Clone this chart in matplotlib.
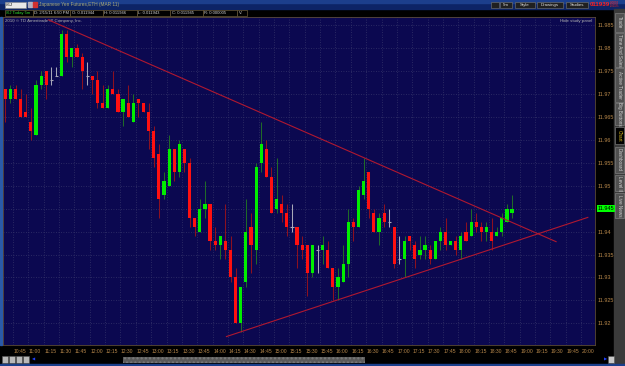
import matplotlib
matplotlib.use("Agg")
import matplotlib.pyplot as plt
from matplotlib.patches import Rectangle
from matplotlib.transforms import blended_transform_factory

plt.rcParams["font.family"] = ["Liberation Sans Narrow", "Liberation Sans", "DejaVu Sans"]

W, H = 625, 366

# 5-minute bars of /6J (x1000), first bar 10:35, last bar 18:50
opens = [11.971, 11.969, 11.971, 11.969, 11.966, 11.964, 11.961, 11.972, 11.975, 11.973,
         11.974, 11.974, 11.983, 11.978, 11.980, 11.978, 11.974, 11.974, 11.973, 11.968,
         11.967, 11.971, 11.970, 11.966, 11.968, 11.964, 11.969, 11.968, 11.966, 11.962,
         11.957, 11.948, 11.950, 11.958, 11.953, 11.958, 11.955, 11.943, 11.940, 11.945,
         11.946, 11.938, 11.937, 11.938, 11.936, 11.930, 11.920, 11.929, 11.941, 11.936,
         11.955, 11.958, 11.952, 11.945, 11.946, 11.944, 11.941, 11.941, 11.937, 11.937,
         11.931, 11.936, 11.936, 11.936, 11.932, 11.928, 11.929, 11.933, 11.942, 11.941,
         11.948, 11.953, 11.944, 11.940, 11.944, 11.942, 11.941, 11.934, 11.934, 11.939,
         11.937, 11.935, 11.936, 11.936, 11.934, 11.938, 11.940, 11.937, 11.938, 11.936,
         11.940, 11.939, 11.942, 11.941, 11.940, 11.940, 11.939, 11.940, 11.942, 11.944]
highs = [11.971, 11.972, 11.972, 11.971, 11.970, 11.967, 11.973, 11.975, 11.975, 11.976,
         11.976, 11.984, 11.984, 11.980, 11.981, 11.979, 11.977, 11.974, 11.975, 11.972,
         11.972, 11.975, 11.971, 11.969, 11.972, 11.970, 11.969, 11.968, 11.968, 11.963,
         11.959, 11.953, 11.961, 11.958, 11.960, 11.958, 11.956, 11.943, 11.947, 11.951,
         11.946, 11.941, 11.939, 11.946, 11.939, 11.932, 11.928, 11.947, 11.944, 11.955,
         11.964, 11.960, 11.954, 11.956, 11.948, 11.946, 11.946, 11.941, 11.939, 11.937,
         11.937, 11.937, 11.939, 11.938, 11.932, 11.932, 11.937, 11.945, 11.943, 11.950,
         11.956, 11.953, 11.945, 11.944, 11.946, 11.945, 11.941, 11.939, 11.939, 11.939,
         11.938, 11.939, 11.939, 11.937, 11.938, 11.941, 11.943, 11.938, 11.939, 11.940,
         11.942, 11.945, 11.944, 11.942, 11.942, 11.943, 11.941, 11.944, 11.946, 11.948]
lows = [11.964, 11.968, 11.969, 11.965, 11.965, 11.960, 11.961, 11.971, 11.969, 11.972,
        11.974, 11.974, 11.977, 11.976, 11.978, 11.971, 11.972, 11.970, 11.967, 11.967,
        11.967, 11.970, 11.966, 11.963, 11.965, 11.964, 11.965, 11.966, 11.958, 11.954,
        11.943, 11.947, 11.950, 11.951, 11.952, 11.953, 11.941, 11.939, 11.940, 11.943,
        11.936, 11.936, 11.934, 11.934, 11.929, 11.920, 11.918, 11.928, 11.931, 11.933,
        11.953, 11.952, 11.944, 11.944, 11.942, 11.939, 11.940, 11.932, 11.934, 11.926,
        11.930, 11.931, 11.933, 11.932, 11.925, 11.925, 11.929, 11.930, 11.938, 11.941,
        11.947, 11.943, 11.940, 11.937, 11.941, 11.941, 11.932, 11.933, 11.930, 11.936,
        11.932, 11.934, 11.934, 11.933, 11.934, 11.936, 11.936, 11.937, 11.935, 11.934,
        11.938, 11.939, 11.940, 11.938, 11.938, 11.936, 11.939, 11.939, 11.942, 11.943]
closes = [11.969, 11.971, 11.969, 11.965, 11.965, 11.962, 11.972, 11.974, 11.972, 11.973,
          11.974, 11.983, 11.978, 11.980, 11.978, 11.975, 11.974, 11.973, 11.968, 11.967,
          11.971, 11.970, 11.966, 11.969, 11.965, 11.968, 11.968, 11.966, 11.962, 11.956,
          11.947, 11.951, 11.958, 11.953, 11.959, 11.955, 11.943, 11.941, 11.945, 11.946,
          11.938, 11.937, 11.939, 11.936, 11.930, 11.920, 11.928, 11.940, 11.937, 11.954,
          11.959, 11.952, 11.944, 11.947, 11.944, 11.941, 11.941, 11.937, 11.936, 11.931,
          11.937, 11.936, 11.937, 11.932, 11.928, 11.930, 11.933, 11.942, 11.941, 11.949,
          11.951, 11.945, 11.940, 11.943, 11.942, 11.942, 11.933, 11.934, 11.938, 11.938,
          11.934, 11.936, 11.937, 11.934, 11.938, 11.940, 11.937, 11.938, 11.936, 11.939,
          11.938, 11.942, 11.941, 11.940, 11.941, 11.938, 11.940, 11.943, 11.945, 11.945]

time_labels = ["10:45", "11:00", "11:15", "11:30", "11:45", "12:00", "12:15", "12:30",
               "12:45", "13:00", "13:15", "13:30", "13:45", "14:00", "14:15", "14:30",
               "14:45", "15:00", "15:15", "15:30", "15:45", "16:00", "16:15", "16:30",
               "16:45", "17:00", "17:15", "17:30", "17:45", "18:00", "18:15", "18:30",
               "18:45", "19:00", "19:15", "19:30", "19:45", "20:00"]
price_ticks = [11.92, 11.925, 11.93, 11.935, 11.94, 11.945, 11.95, 11.955,
               11.96, 11.965, 11.97, 11.975, 11.98, 11.985]
last_price = 11.945

# drawn trendlines, (bar index, price) end points
upper_line_x = [8.4, 107.6]
upper_line_y = [11.9862, 11.9378]
lower_line_x = [43.2, 113.8]
lower_line_y = [11.9171, 11.9431]

side_tabs = ["Trade", "Time And Sales", "Active Trader", "Big Buttons", "Chart",
             "Dashboard", "Level II", "Live News"]

NAVY = "#0b0850"
UP = "#00ee00"
DOWN = "#ff1010"
UP_WICK = "#1f6a28"
DOWN_WICK = "#8c1020"
DOJI = "#a8a8b8"
AXIS_TXT = "#b8884a"
GRID = "#34346a"


def px_rect(x0, y0, x1, y1):
    return [x0 / W, 1 - y1 / H, (x1 - x0) / W, (y1 - y0) / H]


fig = plt.figure(figsize=(W / 100, H / 100), dpi=100, facecolor="black")

# window chrome, drawn in pixel coordinates
ui = fig.add_axes([0, 0, 1, 1])
ui.set_xlim(0, W)
ui.set_ylim(H, 0)
ui.axis("off")
ui.add_patch(Rectangle((0, 0), W, 8.5, color="#0d2466"))
ui.add_patch(Rectangle((0, 0), W, 2.5, color="#1c3f8c"))
ui.add_patch(Rectangle((5, 1.5), 21, 6, facecolor="#e8e8e8", edgecolor="#888888", lw=0.4))
ui.text(6, 4.6, "/6J", fontsize=3.2, color="black", va="center")
ui.add_patch(Rectangle((28, 2), 4, 5, color="#b0b0c0"))
ui.add_patch(Rectangle((33, 2), 4, 5, color="#d03030"))
ui.text(39, 4.6, "Japanese Yen Futures,ETH (MAR 11)", fontsize=3.4, color="#a8a878", va="center")
for x0, w, lab in [(491, 8, ""), (500, 12, "5m"), (515, 20, "Style"), (537, 26, "Drawings"), (566, 22, "Studies")]:
    ui.add_patch(Rectangle((x0, 1.5), w, 6, facecolor="#202020", edgecolor="#777777", lw=0.4))
    ui.text(x0 + w / 2, 4.6, lab, fontsize=3.2, color="#dddddd", ha="center", va="center")
ui.text(590, 4.8, "011939", fontsize=4.4, color="#ff2020", va="center", weight="bold")
ui.text(610, 2.9, "-00002", fontsize=2.2, color="#ff2020", va="center")
ui.text(610, 6.1, "-0.01%", fontsize=2.2, color="#ff2020", va="center")

header = [(5, 33, "/6J Today 5m", "#30e030"), (33, 70, "D: 2/15/11 6:50 PM", "#d8d8d8"),
          (70, 103, "O: 0.011944", "#d8d8d8"), (103, 137, "H: 0.011946", "#d8d8d8"),
          (137, 170, "L: 0.011943", "#d8d8d8"), (170, 203, "C: 0.011945", "#d8d8d8"),
          (203, 237, "R: 0.000005", "#d8d8d8"), (237, 247, "V:", "#d8d8d8")]
for x0, x1, lab, col in header:
    ui.add_patch(Rectangle((x0, 9.5), x1 - x0, 6.5, facecolor="black", edgecolor="#6a5a3a", lw=0.5))
    ui.text(x0 + 1.5, 12.9, lab, fontsize=3.0, color=col, va="center")

# right side tabs
ui.add_patch(Rectangle((614, 9), 11, 357, color="#3a3a3a"))
tab_spans = [(13, 32), (33, 67), (68, 102), (103, 125), (127, 144), (147, 173), (175, 191), (193, 218)]
for (y0, y1), lab in zip(tab_spans, side_tabs):
    active = lab == "Chart"
    ui.add_patch(Rectangle((615, y0), 9, y1 - y0, facecolor="#000000" if active else "#505050",
                           edgecolor="#8a8a8a", lw=0.4))
    ui.text(619.5, (y0 + y1) / 2, lab, fontsize=3.3, rotation=270, ha="center", va="center",
            color="#e0c020" if active else "#d0d0d0")

# bottom scroll bar
for i in range(4):
    ui.add_patch(Rectangle((2 + i * 7, 356), 6, 6.5, facecolor="#b8b8b8", edgecolor="#555555", lw=0.4))
ui.text(32, 359.3, "\u25c0", fontsize=3, color="#2040ff", va="center", family="DejaVu Sans")
ui.add_patch(Rectangle((123, 356.5), 242, 6, facecolor="#5a5a5a", hatch="....", edgecolor="#7a7a7a", lw=0))
ui.text(604, 359.3, "\u25b6", fontsize=3, color="#2040ff", va="center", family="DejaVu Sans")
ui.add_patch(Rectangle((608, 356), 6, 6.5, facecolor="#c8c8c8", edgecolor="#555555", lw=0.4))
ui.add_patch(Rectangle((0, 363.5), W, 2.5, color="#1a3f8c"))
ui.add_patch(Rectangle((0, 17), 1.5, 328, color="#2a5aa8"))

# price chart
ax = fig.add_axes(px_rect(3, 17, 595, 345))
ax.set_facecolor(NAVY)
ax.set_xlim(-0.45, 115.2)
ax.set_ylim(11.91526, 11.98681)

grid_x = [1.5 + 3 * k for k in range(len(time_labels))]
for gx in grid_x:
    ax.axvline(gx, color=GRID, lw=0.6, ls=(0, (1, 2)), zorder=0)
for py in price_ticks:
    ax.axhline(py, color=GRID, lw=0.6, ls=(0, (1, 2)), zorder=0)

for i, (o, h, l, c) in enumerate(zip(opens, highs, lows, closes)):
    if c > o:
        body, wick = UP, UP_WICK
    elif c < o:
        body, wick = DOWN, DOWN_WICK
    else:
        body, wick = DOJI, DOJI
    ax.vlines(i, l, h, color=wick, lw=0.75, zorder=2)
    if c == o:
        ax.hlines(o, i - 0.32, i + 0.32, color=DOJI, lw=0.8, zorder=3)
    else:
        ax.bar(i, abs(c - o), bottom=min(o, c), width=0.62, color=body, lw=0, zorder=3)

ax.plot(upper_line_x, upper_line_y, color="#b01830", lw=0.8, zorder=4)
ax.plot(lower_line_x, lower_line_y, color="#b01830", lw=0.8, zorder=4)

ax.yaxis.tick_right()
ax.set_yticks(price_ticks)
ax.set_yticklabels([f"{p:g}" for p in price_ticks])
ax.tick_params(axis="y", length=0, pad=2, labelsize=4, labelcolor=AXIS_TXT)
ax.set_xticks([])
trans = blended_transform_factory(ax.transData, ax.transAxes)
for gx, lab in zip(grid_x, time_labels):
    ax.text(gx + 0.1, -0.012, lab, transform=trans, fontsize=3.6, color=AXIS_TXT,
            ha="left", va="top", clip_on=False)

ax.text(1.004, last_price, f"{last_price:g}", transform=blended_transform_factory(ax.transAxes, ax.transData),
        fontsize=4, color="black", ha="left", va="center",
        bbox=dict(boxstyle="square,pad=0.15", facecolor="#00ff00", edgecolor="none"))
ax.text(0.003, 0.995, "2010 \u00a9 TD Ameritrade IP Company, Inc.", transform=ax.transAxes,
        fontsize=3.2, color="#b0b0b0", ha="left", va="top")
ax.text(0.995, 0.995, "Hide study panel", transform=ax.transAxes,
        fontsize=3.2, color="#b0b0b0", ha="right", va="top")

for spine in ax.spines.values():
    spine.set_color("#5a4a3a")
    spine.set_linewidth(0.6)

fig.savefig("out.png", dpi=100, facecolor="black")
